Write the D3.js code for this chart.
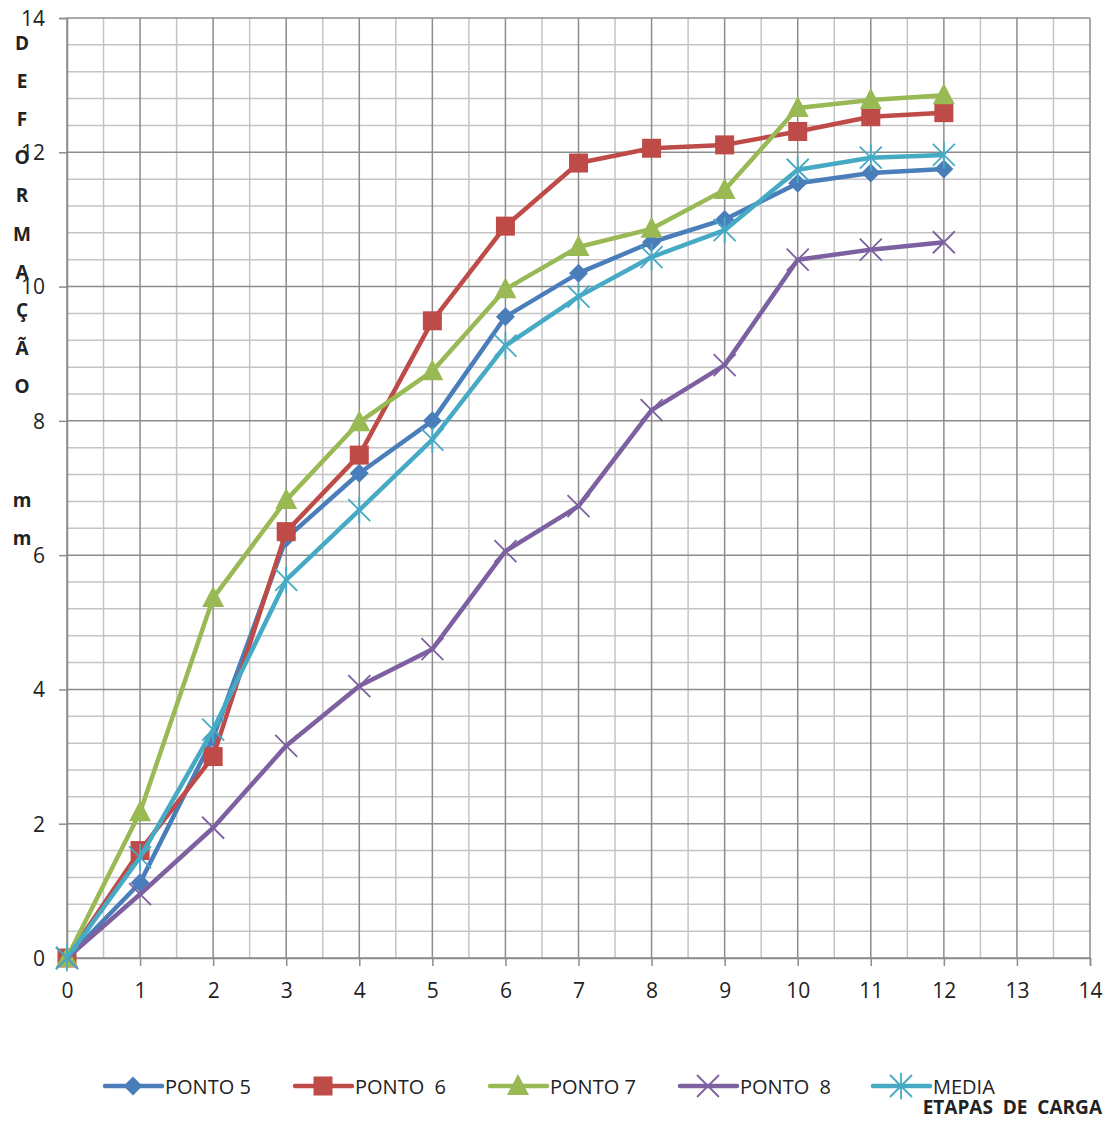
<!DOCTYPE html>
<head>
  <meta charset="utf-8">
  <script src="https://d3js.org/d3.v7.min.js"></script>
  <style>
    body { margin:0; background:#fff; }
    text { font-family: "Open Sans", "Liberation Sans", sans-serif; fill:#222; white-space: pre; }
  </style>
</head>
<body>
<script>
  // etapas de carga
  var etapas = [0, 1, 2, 3, 4, 5, 6, 7, 8, 9, 10, 11, 12];

  var ponto5 = [0, 1.12, 3.28, 6.25, 7.22, 8.0, 9.55, 10.2, 10.66, 11.0, 11.54, 11.69, 11.75];
  var ponto6 = [0, 1.6, 3.0, 6.35, 7.49, 9.49, 10.9, 11.84, 12.06, 12.11, 12.31, 12.53, 12.59];
  var ponto7 = [0, 2.17, 5.36, 6.82, 7.98, 8.74, 9.96, 10.59, 10.86, 11.44, 12.66, 12.78, 12.85];
  var ponto8 = [0, 0.95, 1.94, 3.16, 4.05, 4.6, 6.06, 6.73, 8.16, 8.83, 10.4, 10.55, 10.66];
  var media  = [0, 1.5, 3.4, 5.63, 6.67, 7.72, 9.12, 9.85, 10.44, 10.84, 11.74, 11.92, 11.96];

  var xTicks = d3.range(0, 15, 1);
  var yTicks = [0, 2, 4, 6, 8, 10, 12, 14];
  var yTitle = "DEFORMAÇÃO  mm";

  var series = [
    { name: "PONTO 5",  values: ponto5, color: "#4a7ebb", marker: "diamond" },
    { name: "PONTO  6", values: ponto6, color: "#be4b48", marker: "square" },
    { name: "PONTO 7",  values: ponto7, color: "#98b954", marker: "triangle" },
    { name: "PONTO  8", values: ponto8, color: "#7d60a0", marker: "x" },
    { name: "MEDIA",    values: media,  color: "#46aac5", marker: "star" }
  ];

  var width = 1112, height = 1121;
  var svg = d3.select("body").append("svg")
    .attr("width", width).attr("height", height);

  var x = d3.scaleLinear().domain([0, 14]).range([67, 1090]);
  var y = d3.scaleLinear().domain([0, 14]).range([958, 18]);

  // grelha menor
  var g = svg.append("g");
  g.selectAll(".vminor").data(d3.range(0.5, 14, 1)).enter().append("line")
    .attr("x1", d => x(d)).attr("x2", d => x(d))
    .attr("y1", y(0)).attr("y2", y(14))
    .attr("stroke", "#c4c4c4").attr("stroke-width", 1.5);
  g.selectAll(".hminor").data(d3.range(0, 14.01, 0.4).filter(d => Math.abs(d / 2 - Math.round(d / 2)) > 0.01)).enter().append("line")
    .attr("x1", x(0)).attr("x2", x(14))
    .attr("y1", d => y(d)).attr("y2", d => y(d))
    .attr("stroke", "#c4c4c4").attr("stroke-width", 1.5);

  // grelha maior
  g.selectAll(".vmajor").data(xTicks).enter().append("line")
    .attr("x1", d => x(d)).attr("x2", d => x(d))
    .attr("y1", y(0)).attr("y2", y(14))
    .attr("stroke", "#8c8c8c").attr("stroke-width", 1.5);
  g.selectAll(".hmajor").data(yTicks).enter().append("line")
    .attr("x1", x(0)).attr("x2", x(14))
    .attr("y1", d => y(d)).attr("y2", d => y(d))
    .attr("stroke", "#8c8c8c").attr("stroke-width", 1.5);

  // eixos
  var xAxis = svg.append("g").attr("transform", "translate(0," + y(0) + ")")
    .call(d3.axisBottom(x).tickValues(xTicks).tickSize(8).tickPadding(17).tickFormat(d3.format("d")));
  var yAxis = svg.append("g").attr("transform", "translate(" + x(0) + ",0)")
    .call(d3.axisLeft(y).tickValues(yTicks).tickSize(8).tickPadding(14).tickFormat(d3.format("d")));
  [xAxis, yAxis].forEach(function(a) {
    a.select(".domain").attr("stroke", "#8c8c8c").attr("stroke-width", 1.5);
    a.selectAll(".tick line").attr("stroke", "#8c8c8c").attr("stroke-width", 1.5);
    a.selectAll(".tick text").style("font-size", "21px").attr("fill", "#222");
  });
  yAxis.selectAll(".tick text").attr("dy", "0.35em");

  // linhas
  var line = d3.line().x((d, i) => x(etapas[i])).y(d => y(d));

  function drawMarker(sel, type, color, s) {
    if (type === "diamond") {
      sel.append("path").attr("d", d3.symbol().type(d3.symbolDiamond2).size(s * s * 0.9)())
        .attr("fill", color);
    } else if (type === "square") {
      sel.append("rect").attr("x", -s / 2).attr("y", -s / 2).attr("width", s).attr("height", s)
        .attr("fill", color);
    } else if (type === "triangle") {
      sel.append("path").attr("d", "M0," + (-s * 0.6) + "L" + (s * 0.55) + "," + (s * 0.45) + "L" + (-s * 0.55) + "," + (s * 0.45) + "Z")
        .attr("fill", color);
    } else if (type === "x") {
      var h = s * 0.5;
      sel.append("path").attr("d", "M" + (-h) + "," + (-h) + "L" + h + "," + h + "M" + (-h) + "," + h + "L" + h + "," + (-h))
        .attr("stroke", color).attr("stroke-width", 1.8);
    } else if (type === "star") {
      var h2 = s * 0.5;
      sel.append("path").attr("d", "M" + (-h2) + "," + (-h2) + "L" + h2 + "," + h2 + "M" + (-h2) + "," + h2 + "L" + h2 + "," + (-h2) + "M0," + (-h2 * 1.2) + "L0," + (h2 * 1.2))
        .attr("stroke", color).attr("stroke-width", 1.8);
    }
  }

  var msize = { diamond: 16, square: 19, triangle: 20, x: 22, star: 22 };

  series.forEach(function(s) {
    var sg = svg.append("g");
    sg.append("path").datum(s.values).attr("d", line)
      .attr("fill", "none").attr("stroke", s.color).attr("stroke-width", 4.5)
      .attr("stroke-linejoin", "round");
    sg.selectAll(".m").data(s.values).enter().append("g")
      .attr("transform", (d, i) => "translate(" + x(etapas[i]) + "," + y(d) + ")")
      .each(function() { drawMarker(d3.select(this), s.marker, s.color, msize[s.marker]); });
  });

  // titulo eixo y (letras empilhadas)
  svg.append("g").selectAll("text").data(yTitle.split("")).enter().append("text")
    .attr("x", 22).attr("y", (d, i) => 50 + i * 38.1)
    .attr("text-anchor", "middle")
    .style("font-size", "19px").style("font-weight", "bold")
    .text(d => d);

  // legenda
  var legX = [105, 295, 490, 680, 873];
  var leg = svg.append("g");
  series.forEach(function(s, i) {
    var lg = leg.append("g").attr("transform", "translate(" + legX[i] + ",1086)");
    lg.append("line").attr("x1", 0).attr("x2", 57).attr("y1", 0).attr("y2", 0)
      .attr("stroke", s.color).attr("stroke-width", 4.5).attr("stroke-linecap", "round");
    var mg = lg.append("g").attr("transform", "translate(28,0)");
    drawMarker(mg, s.marker, s.color, msize[s.marker]);
    lg.append("text").attr("x", 60).attr("y", 8)
      .style("font-size", "20px").text(s.name);
  });

  svg.append("text").attr("x", 1102).attr("y", 1114)
    .attr("text-anchor", "end")
    .style("font-size", "19px").style("font-weight", "bold")
    .text("ETAPAS  DE  CARGA");
</script>
</body>
